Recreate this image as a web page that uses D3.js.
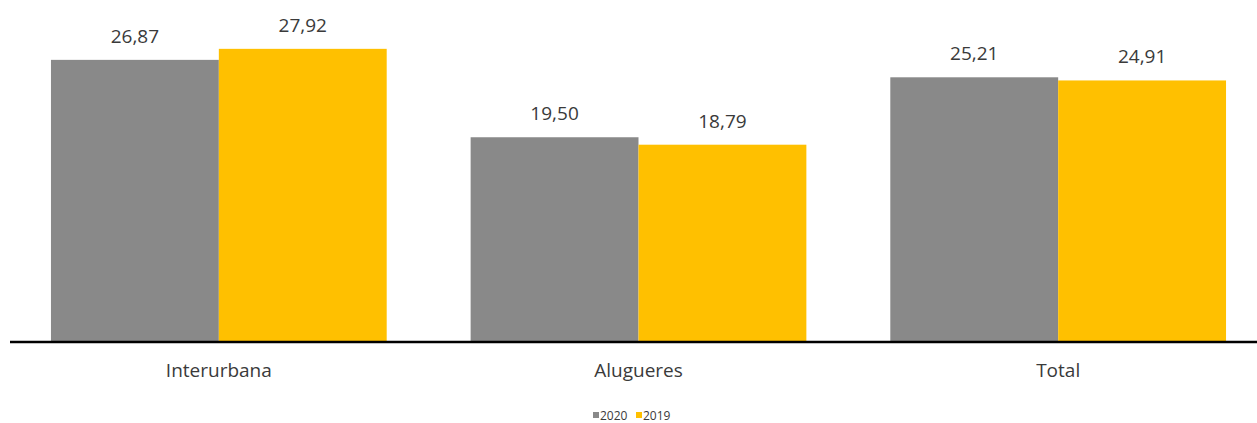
<!DOCTYPE html>
<html><head><meta charset="utf-8">
<script src="https://cdn.jsdelivr.net/npm/d3@7"></script>
<style>body{margin:0;background:#fff}svg{display:block}</style>
</head><body>
<script>
const categories = ["Interurbana", "Alugueres", "Total"];
const seriesNames = ["2020", "2019"];
const values2020 = [26.87, 19.50, 25.21];
const values2019 = [27.92, 18.79, 24.91];
const colors = ["#898989", "#FFC000"];

const W = 1257, H = 423;
const svg = d3.select("body").append("svg").attr("width", W).attr("height", H);
const font = "'Open Sans', 'Liberation Sans', sans-serif";

const x = d3.scaleBand().domain(categories).range([9, 1268]).paddingInner(0.2).paddingOuter(0.1);
const xs = d3.scaleBand().domain(seriesNames).range([0, x.bandwidth()]).padding(0);
const y = d3.scaleLinear().domain([0, 30]).range([342, 27]);

const data = categories.map((c, i) => ({cat: c, vals: [values2020[i], values2019[i]]}));
const fmt = v => d3.format(".2f")(v).replace(".", ",");

const g = svg.selectAll("g.cat").data(data).join("g").attr("class", "cat")
  .attr("transform", d => `translate(${x(d.cat)},0)`);
g.selectAll("rect").data(d => d.vals.map((v, j) => ({v, s: seriesNames[j], j})))
  .join("rect")
  .attr("x", d => xs(d.s)).attr("width", xs.bandwidth())
  .attr("y", d => y(d.v)).attr("height", d => y(0) - y(d.v))
  .attr("fill", d => colors[d.j]);
g.selectAll("text.val").data(d => d.vals.map((v, j) => ({v, s: seriesNames[j]})))
  .join("text").attr("class", "val")
  .attr("x", d => xs(d.s) + xs.bandwidth() / 2).attr("y", d => y(d.v) - 17)
  .attr("text-anchor", "middle").attr("font-family", font).attr("font-size", 19)
  .attr("fill", "#3a3a3a").text(d => fmt(d.v));

const xAxis = svg.append("g").attr("transform", `translate(0,${y(0)})`)
  .call(d3.axisBottom(x).tickSize(0).tickPadding(16));
xAxis.select(".domain").attr("stroke", "#000").attr("stroke-width", 2.5).attr("d", `M10,0H${W}`);
xAxis.selectAll("text").attr("dy", null).attr("y", 35)
  .attr("font-family", font).attr("font-size", 19).attr("fill", "#3a3a3a");

const leg = svg.append("g").attr("transform", "translate(593,409)");
const items = leg.selectAll("g").data(seriesNames).join("g")
  .attr("transform", (d, i) => `translate(${i * 43},0)`);
items.append("rect").attr("width", 6).attr("height", 6).attr("y", 3).attr("fill", (d, i) => colors[i]);
items.append("text").attr("x", 7).attr("y", 10.5).attr("font-family", font).attr("font-size", 12)
  .attr("fill", "#3a3a3a").text(d => d);
</script>
</body></html>
